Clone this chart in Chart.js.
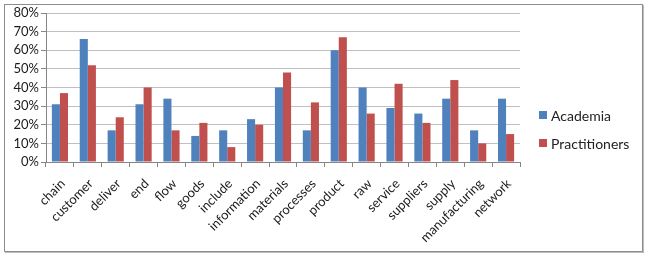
<!DOCTYPE html>
<html>
<head>
<meta charset="utf-8">
<script src="https://cdn.jsdelivr.net/npm/chart.js@4/dist/chart.umd.min.js"></script>
<style>
  html, body { margin: 0; padding: 0; background: #ffffff; }
  #wrap { position: relative; width: 648px; height: 258px; }
  #frame { position: absolute; left: 4px; top: 4px; width: 637px; height: 246px; border: 1px solid #8c8c8c; box-shadow: 1px 1px 0 #bdbdbd; }
  canvas { position: absolute; left: 0; top: 0; }
  #legend { position: absolute; left: 539px; top: 106px; font-family: Lato, "Liberation Sans", sans-serif; font-size: 14px; color: #222; }
  .item { display: flex; align-items: center; height: 18px; margin-bottom: 10px; }
  .sw { width: 8px; height: 8px; margin-right: 4px; }
</style>
</head>
<body>
<div id="wrap">
  <div id="frame"></div>
  <canvas id="c" width="648" height="258"></canvas>
  <div id="legend"></div>
</div>
<script>
const categories = ["chain","customer","deliver","end","flow","goods","include","information","materials","processes","product","raw","service","suppliers","supply","manufacturing","network"];
const seriesNames = ["Academia","Practitioners"];
const academia = [31,66,17,31,34,14,17,23,40,17,60,40,29,26,34,17,34];
const practitioners = [37,52,24,40,17,21,8,20,48,32,67,26,42,21,44,10,15];
const yTicks = [0,10,20,30,40,50,60,70,80];
const colors = ["#4F81BD","#C0504D"];

const legend = document.getElementById('legend');
seriesNames.forEach((n,i)=>{
  const d = document.createElement('div'); d.className='item';
  const s = document.createElement('div'); s.className='sw'; s.style.background=colors[i];
  const t = document.createElement('span'); t.textContent=n;
  d.appendChild(s); d.appendChild(t); legend.appendChild(d);
});

const font = { family: "Lato, 'Liberation Sans', sans-serif", size: 13 };
new Chart(document.getElementById('c'), {
  type: 'bar',
  data: {
    labels: categories,
    datasets: [
      { label: seriesNames[0], data: academia, backgroundColor: colors[0], borderWidth: 0 },
      { label: seriesNames[1], data: practitioners, backgroundColor: colors[1], borderWidth: 0 }
    ]
  },
  options: {
    responsive: false,
    animation: false,
    devicePixelRatio: 1,
    layout: { padding: { left: 0, right: 128, top: 13, bottom: 0 } },
    plugins: { legend: { display: false }, tooltip: { enabled: false } },
    datasets: { bar: { categoryPercentage: 0.58, barPercentage: 1.0 } },
    scales: {
      x: {
        grid: { display: true, drawOnChartArea: false, drawTicks: true, tickLength: 5, color: '#868686', offset: true },
        border: { color: '#868686' },
        ticks: { maxRotation: 45, minRotation: 45, autoSkip: false, color: '#1a1a1a', font: { family: font.family, size: 13 }, padding: 9, labelOffset: 3 },
        afterFit: (s) => { s.height = 96; }
      },
      y: {
        min: 0, max: 80,
        afterBuildTicks: (s) => { s.ticks = yTicks.map(v => ({ value: v })); },
        grid: { color: '#c0c0c0', tickLength: 5, tickColor: '#868686' },
        border: { color: '#868686' },
        ticks: { color: '#1a1a1a', font: font, padding: 2, callback: (v) => v + '%' },
        afterFit: (s) => { s.width = 46; }
      }
    }
  }
});
</script>
</body>
</html>
